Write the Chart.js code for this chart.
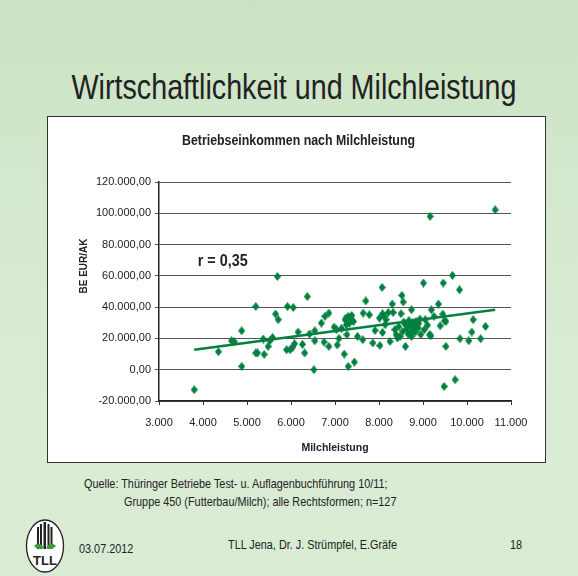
<!DOCTYPE html>
<html><head><meta charset="utf-8">
<script src="https://cdn.jsdelivr.net/npm/chart.js@4.4.0/dist/chart.umd.min.js"></script>
<style>
html,body{margin:0;padding:0;}
body{width:578px;height:576px;position:relative;overflow:hidden;
 background:linear-gradient(180deg,#cbe3c2 0%,#d4e8cd 35%,#dbecd5 70%,#d9ebd3 100%);
 font-family:"Liberation Sans",Arial,sans-serif;color:#222;}
#title{position:absolute;left:5px;width:578px;top:67px;text-align:center;font-size:35px;line-height:40px;color:#222;white-space:nowrap;transform:scaleX(0.82);transform-origin:center;}
#box{position:absolute;left:47px;top:116px;width:497px;height:345px;background:#fff;border:1.5px solid #333;}
#c{position:absolute;left:48px;top:117px;}
.t{position:absolute;white-space:nowrap;font-size:13px;line-height:15px;color:#222;transform:scaleX(0.835);transform-origin:left center;}
</style></head>
<body>
<div id="title">Wirtschaftlichkeit und Milchleistung</div>
<div id="box"></div>
<canvas id="c" width="497" height="345"></canvas>
<div class="t" style="left:84px;top:476px;">Quelle: Thüringer Betriebe Test- u. Auflagenbuchführung 10/11;</div>
<div class="t" style="left:124px;top:494px;">Gruppe 450 (Futterbau/Milch); alle Rechtsformen; n=127</div>
<div class="t" style="left:79px;top:541px;">03.07.2012</div>
<div class="t" style="left:228px;top:537px;">TLL Jena, Dr. J. Strümpfel, E.Gräfe</div>
<div class="t" style="left:510px;top:537px;">18</div>
<svg style="position:absolute;left:24px;top:518px" width="42" height="56" viewBox="0 0 42 56">
 <ellipse cx="21" cy="28" rx="18.5" ry="26" fill="#fff" stroke="#222" stroke-width="1.3"/>
 <g fill="#222">
  <rect x="13" y="9" width="2" height="22"/><rect x="16" y="6" width="2" height="25"/>
  <rect x="19.5" y="4" width="2.5" height="27"/><rect x="23.5" y="6" width="2" height="25"/>
  <rect x="26.5" y="9" width="2" height="22"/>
 </g>
 <path d="M10 28 Q15 22 20 30 Q14 33 10 28Z M32 28 Q27 22 22 30 Q28 33 32 28Z" fill="#3a9a3a"/>
 <text x="21" y="47" text-anchor="middle" font-family="Liberation Sans" font-weight="bold" font-size="13" fill="#222">TLL</text>
</svg>
<script>
// ---- data ----
const chartTitle = 'Betriebseinkommen nach Milchleistung';
const xTitle = 'Milchleistung';
const yTitle = 'BE EUR/AK';
const rLabel = 'r = 0,35';
const xTickLabels = ['3.000','4.000','5.000','6.000','7.000','8.000','9.000','10.000','11.000'];
const yTickLabels = ['-20.000,00','0,00','20.000,00','40.000,00','60.000,00','80.000,00','100.000,00','120.000,00'];
const milk = [3800,4350,4650,4710,4880,4880,5200,5200,5240,5370,
 5390,5480,5520,5580,5650,5690,5710,5900,5920,5980,
 6040,6050,6080,6160,6260,6310,6370,6420,6520,6540,
 6540,6690,6750,6770,6860,6860,6980,7030,7050,7090,
 7210,7230,7300,7380,7420,7260,7330,7270,7300,7440,
 7510,7640,7630,7700,7780,7910,7860,8020,8080,8070,
 8010,8080,8160,8210,8320,8300,8140,8250,8360,8390,
 8420,8500,8520,8550,8480,8600,8540,8630,8710,8770,
 8800,8710,8740,8840,8890,8740,9010,8930,9050,9030,
 9160,10640,9460,9670,9830,9350,9190,9450,9490,9390,
 9520,9480,9730,9840,10040,10110,10140,10310,10420,9250,
 9150,9180,9520,8600,8680,8820,8900,7350,7150,8450,
 8950,8780,8660,7250,8120,9100,8560];
const income = [-12800,11500,18500,17900,24900,2100,40400,10700,10700,19600,
 9800,14900,18500,20600,35600,59600,32000,12800,40400,12800,
 14500,39800,16600,24100,16200,10700,46800,22800,0,24900,
 18500,29800,17700,34100,36200,14900,27300,25600,15800,20000,
 10000,32000,34100,34700,30900,28800,29800,22400,2100,4900,
 21300,36200,19200,44000,35100,25100,17100,15500,23800,52600,
 33000,35800,32000,36600,36600,42000,28800,18100,25600,22400,
 20300,35800,47500,43300,21300,14900,24500,26000,28100,30200,
 27700,23400,21300,30900,26600,38300,55400,32400,32000,25600,
 98000,102200,55400,60300,51100,42000,38300,35600,31300,28100,
 14900,-10700,-6400,19800,18500,24100,32000,19800,27700,34100,
 22400,21700,30900,29000,31500,24000,29500,31500,26500,27500,
 22500,25800,22800,33000,34000,28500,30500];
const trendX = [3800, 10640];
const trendY = [12800, 38300];

// ---- drawing ----
const FAM = '"Liberation Sans",Arial,sans-serif';
const GREEN = '#00813f';
const dia = document.createElement('canvas');
dia.width = 7; dia.height = 9;
(function(){const g=dia.getContext('2d');g.fillStyle=GREEN;g.beginPath();g.moveTo(3.5,0);g.lineTo(7,4.5);g.lineTo(3.5,9);g.lineTo(0,4.5);g.closePath();g.fill();})();

function narrowText(ctx, text, x, y, font, targetW, align){
  ctx.save();
  ctx.font = font;
  const w = ctx.measureText(text).width;
  const k = targetW / w;
  ctx.translate(x, y);
  ctx.scale(k, 1);
  ctx.textAlign = align;
  ctx.fillText(text, 0, 0);
  ctx.restore();
}

const overlay = {
  id:'overlay',
  afterDraw(chart){
    const {ctx, scales:{x,y}} = chart;
    ctx.save();
    ctx.fillStyle = '#222';
    ctx.textBaseline = 'middle';
    narrowText(ctx, chartTitle, 298.5-48, 141-117, 'bold 14px ' + FAM, 233, 'center');
    narrowText(ctx, rLabel, x.getPixelForValue(3880), y.getPixelForValue(69300), 'bold 17px ' + FAM, 50, 'left');
    ctx.translate(84-48, 266-117);
    ctx.rotate(-Math.PI/2);
    ctx.textAlign = 'center';
    ctx.font = 'bold 10px ' + FAM;
    ctx.fillText(yTitle, 0, 0);
    ctx.restore();
  }
};

new Chart(document.getElementById('c'), {
  type:'scatter',
  data:{datasets:[
    {type:'line', data: trendX.map((v,i)=>({x:v,y:trendY[i]})), borderColor:GREEN, borderWidth:2.5, pointRadius:0, order:0},
    {data: milk.map((v,i)=>({x:v,y:income[i]})), pointStyle:dia, pointRadius:4, backgroundColor:GREEN, borderColor:GREEN, order:1}
  ]},
  options:{
    responsive:false, animation:false, devicePixelRatio:1,
    layout:{padding:{left:26, right:34, top:65, bottom:0}},
    plugins:{legend:{display:false}, tooltip:{enabled:false}, title:{display:false}},
    scales:{
      x:{type:'linear', min:3000, max:11000,
         ticks:{stepSize:1000, autoSkip:false, maxRotation:0, padding:11, color:'#222', font:{family:FAM, size:11},
                callback:(v,i)=>xTickLabels[i]},
         grid:{drawOnChartArea:false, drawTicks:true, tickLength:4, color:'#333', lineWidth:1},
         border:{color:'#222', width:1.5},
         title:{display:true, text:xTitle, color:'#222', font:{family:FAM, size:10.5, weight:'bold'}, padding:{top:4,bottom:8}},
         afterFit:(s)=>{s.height=61;}},
      y:{min:-20000, max:120000,
         ticks:{stepSize:20000, padding:4, color:'#222', font:{family:FAM, size:11},
                callback:(v,i)=>yTickLabels[i]},
         grid:{color:'#555', lineWidth:1, tickLength:4, drawTicks:true},
         border:{color:'#222', width:1.5},
         afterFit:(s)=>{s.width=85;}}
    }
  },
  plugins:[overlay]
});
</script>
</body></html>
